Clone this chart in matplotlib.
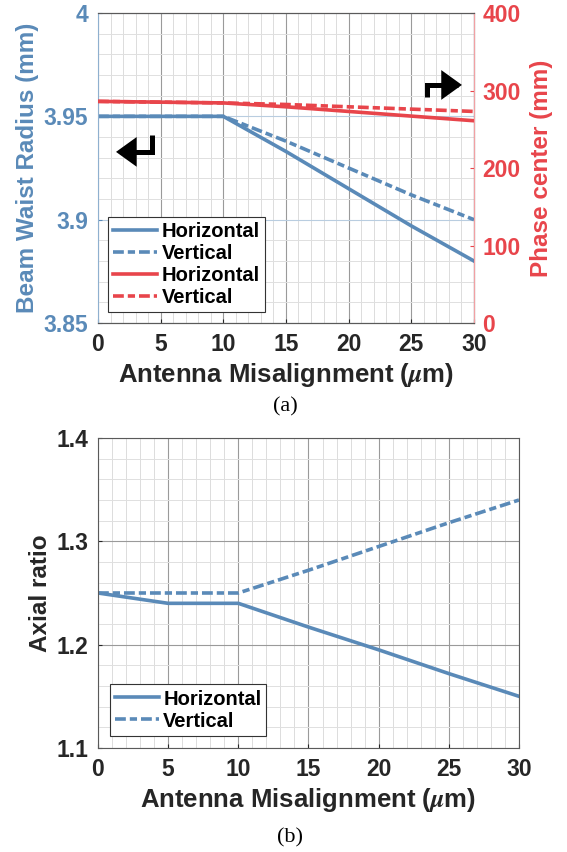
import numpy as np
import matplotlib
matplotlib.use("Agg")
import matplotlib.pyplot as plt
from matplotlib.ticker import MultipleLocator

plt.rcParams['font.family'] = ['Liberation Sans', 'DejaVu Sans']
plt.rcParams['font.weight'] = 'bold'
plt.rcParams['mathtext.fontset'] = 'stix'

# data
misalign = [0, 5, 10, 15, 20, 25, 30]                         # um
waist_h = [3.95, 3.95, 3.95, 3.933, 3.915, 3.897, 3.88]       # mm
waist_v = [3.95, 3.95, 3.95, 3.938, 3.925, 3.912, 3.90]       # mm
phase_h = [286, 285, 284, 279, 273, 267, 261]                 # mm
phase_v = [286, 285, 284, 282, 279, 276, 273]                 # mm
axial_h = [1.25, 1.24, 1.24, 1.217, 1.195, 1.172, 1.15]
axial_v = [1.25, 1.25, 1.25, 1.272, 1.295, 1.318, 1.34]

blue = '#5a8ab8'
red = '#e8454b'
txt = '#262626'
dash = (3.0, 1.1, 2.0, 1.1)      # matlab-ish dash-dot at thick width
lw = 2.6

fig = plt.figure(figsize=(5.67, 8.52), dpi=100)
ax1 = fig.add_axes([0.1728, 0.6209, 0.6631, 0.3638])
ax2 = fig.add_axes([0.1728, 0.1221, 0.7425, 0.3638])


def style_grid(ax, ycol):
    ax.xaxis.set_major_locator(MultipleLocator(5))
    ax.xaxis.set_minor_locator(MultipleLocator(1))
    ax.grid(True, which='major', axis='x', color='#9a9a9a', lw=0.8)
    ax.grid(True, which='minor', axis='x', color='#dcdcdc', lw=0.7)
    ax.grid(True, which='major', axis='y', color=ycol, lw=0.8)
    ax.grid(True, which='minor', axis='y', color='#e0e0e0', lw=0.7)
    ax.set_axisbelow(True)
    ax.tick_params(which='both', direction='in', labelsize=16.5, colors=txt, length=3, pad=7)
    ax.tick_params(which='minor', length=0)
    ax.set_xlim(0, 30)
    ax.set_xlabel(r'Antenna Misalignment ($\mu$m)', fontsize=18.5, color=txt,
                  fontweight='bold', labelpad=4)


# ---- (a) beam waist radius and phase center
style_grid(ax1, '#b9cde0')
l1, = ax1.plot(misalign, waist_h, color=blue, lw=lw, label='Horizontal')
l2, = ax1.plot(misalign, waist_v, color=blue, lw=lw, dashes=dash, label='Vertical')
ax1.set_ylim(3.85, 4)
ax1.yaxis.set_major_locator(MultipleLocator(0.05))
ax1.yaxis.set_minor_locator(MultipleLocator(0.01))
ax1.set_yticks([3.85, 3.9, 3.95, 4])
ax1.set_yticklabels(['3.85', '3.9', '3.95', '4'])
ax1.tick_params(axis='y', colors=blue)
ax1.set_ylabel('Beam Waist Radius (mm)', fontsize=17.5, color=blue, fontweight='bold', labelpad=3)
ax1.spines['left'].set_color('#8fb0cf')
for s in ['top', 'bottom']:
    ax1.spines[s].set_color('#5a5a5a')

ax1r = ax1.twinx()
l3, = ax1r.plot(misalign, phase_h, color=red, lw=lw, label='Horizontal')
l4, = ax1r.plot(misalign, phase_v, color=red, lw=lw, dashes=dash, label='Vertical')
ax1r.set_ylim(0, 400)
ax1r.set_yticks([0, 100, 200, 300, 400])
ax1r.tick_params(axis='y', colors=red, labelsize=16.5, direction='in', length=3, pad=6)
ax1r.set_ylabel('Phase center (mm)', fontsize=17.5, color=red, fontweight='bold', labelpad=7)
ax1r.spines['right'].set_color('#f2a0a3')
ax1r.spines['left'].set_visible(False)
for s in ['top', 'bottom']:
    ax1r.spines[s].set_color('#5a5a5a')

leg = ax1r.legend([l1, l2, l3, l4], ['Horizontal', 'Vertical', 'Horizontal', 'Vertical'],
                  loc='lower left', bbox_to_anchor=(0.027, 0.035), fontsize=14.5,
                  frameon=True, fancybox=False, edgecolor='#333333', framealpha=1,
                  handlelength=2.2, handletextpad=0.2, borderpad=0.25, labelspacing=0.15,
                  borderaxespad=0)
leg.get_frame().set_linewidth(0.8)
for t in leg.get_texts():
    t.set_color('black')

# bent arrows showing which axis each family belongs to
arrow_kw = dict(arrowstyle='-|>,head_length=0.5,head_width=0.36', color='black', lw=3.6,
                shrinkA=0, shrinkB=0, mutation_scale=20, joinstyle='miter', capstyle='butt')
ax1.annotate('', xy=(0.048, 0.552), xycoords='axes fraction',
             xytext=(0.1436, 0.605), textcoords='axes fraction',
             arrowprops=dict(connectionstyle='angle,angleA=90,angleB=0,rad=0', **arrow_kw))
ax1.annotate('', xy=(0.968, 0.768), xycoords='axes fraction',
             xytext=(0.875, 0.729), textcoords='axes fraction',
             arrowprops=dict(connectionstyle='angle,angleA=90,angleB=0,rad=0', **arrow_kw))

# ---- (b) axial ratio
style_grid(ax2, '#9a9a9a')
m1, = ax2.plot(misalign, axial_h, color=blue, lw=lw, label='Horizontal')
m2, = ax2.plot(misalign, axial_v, color=blue, lw=lw, dashes=dash, label='Vertical')
ax2.set_ylim(1.1, 1.4)
ax2.yaxis.set_major_locator(MultipleLocator(0.1))
ax2.yaxis.set_minor_locator(MultipleLocator(0.02))
ax2.set_ylabel('Axial ratio', fontsize=17.5, color=txt, fontweight='bold', labelpad=3)
for s in ax2.spines.values():
    s.set_color('#5a5a5a')
leg2 = ax2.legend(loc='lower left', bbox_to_anchor=(0.028, 0.04), fontsize=14.5,
                  frameon=True, fancybox=False, edgecolor='#333333', framealpha=1,
                  handlelength=2.2, handletextpad=0.2, borderpad=0.25, labelspacing=0.15,
                  borderaxespad=0)
leg2.get_frame().set_linewidth(0.8)

fig.text(0.503, 1 - 407 / 852, '(a)', ha='center', va='center', fontsize=16,
         family='Liberation Serif', fontweight='normal')
fig.text(0.512, 1 - 838 / 852, '(b)', ha='center', va='center', fontsize=16,
         family='Liberation Serif', fontweight='normal')

fig.savefig('out.png', dpi=100)
